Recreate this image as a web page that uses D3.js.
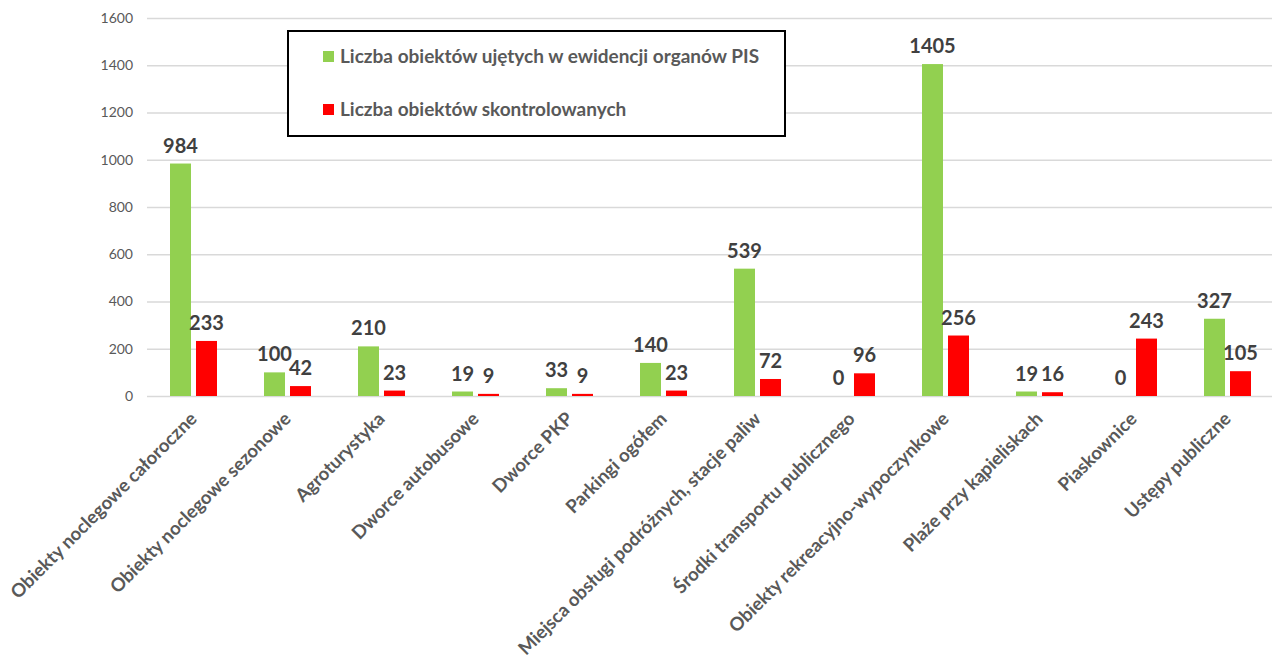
<!DOCTYPE html>
<html lang="pl">
<head>
    <meta charset="utf-8">
    <title>Obiekty PIS</title>
    <script src="https://d3js.org/d3.v7.min.js"></script>
    <style>
        body { margin: 0; background: #fff; }
        text { font-family: Lato, "Open Sans", sans-serif; }
    </style>
</head>
<body>
<svg width="1272" height="664"></svg>
<script>
    var categories = ["Obiekty noclegowe całoroczne", "Obiekty noclegowe sezonowe", "Agroturystyka",
        "Dworce autobusowe", "Dworce PKP", "Parkingi ogółem", "Miejsca obsługi podróżnych, stacje paliw",
        "Środki transportu publicznego", "Obiekty rekreacyjno-wypoczynkowe", "Plaże przy kąpieliskach",
        "Piaskownice", "Ustępy publiczne"];
    var ewidencja = [984, 100, 210, 19, 33, 140, 539, 0, 1405, 19, 0, 327];
    var skontrolowane = [233, 42, 23, 9, 9, 23, 72, 96, 256, 16, 243, 105];
    var seriesNames = ["Liczba obiektów ujętych w ewidencji organów PIS", "Liczba obiektów skontrolowanych"];
    var seriesColors = ["#92D050", "#FF0000"];
    var yTicks = [0, 200, 400, 600, 800, 1000, 1200, 1400, 1600];

    var svg = d3.select("svg");
    var plot = {left: 147, right: 1275, top: 18, bottom: 396};

    var x = d3.scaleBand()
        .domain(categories)
        .range([plot.left, plot.right]);
    var xSub = d3.scaleBand()
        .domain([0, 1])
        .range([-24, 23])
        .paddingInner(0.192);
    var y = d3.scaleLinear()
        .domain([0, 1600])
        .range([plot.bottom, plot.top]);

    // siatka + etykiety osi Y
    var yAxis = d3.axisLeft(y)
        .tickValues(yTicks)
        .tickFormat(d3.format("d"))
        .tickSize(-(1272 - plot.left));
    var gy = svg.append("g")
        .attr("transform", "translate(" + plot.left + ",0)")
        .call(yAxis);
    gy.select(".domain").remove();
    gy.selectAll(".tick line").attr("stroke", "#d9d9d9").attr("stroke-width", 1.3);
    gy.selectAll(".tick text")
        .attr("fill", "#595959")
        .style("font-size", "14px")
        .attr("x", -14);

    // etykiety osi X
    var xAxis = d3.axisBottom(x).tickSize(0).tickPadding(0);
    var gx = svg.append("g")
        .attr("transform", "translate(0," + plot.bottom + ")")
        .call(xAxis);
    gx.select(".domain").remove();
    gx.selectAll(".tick text")
        .attr("fill", "#595959")
        .style("font-size", "18.5px")
        .style("font-weight", "bold")
        .attr("text-anchor", "end")
        .attr("dy", 0)
        .attr("y", 0)
        .attr("transform", "translate(4,24) rotate(-45)");

    var series = [ewidencja, skontrolowane];
    series.forEach(function (vals, s) {
        var g = svg.append("g");
        g.selectAll("rect")
            .data(vals)
            .enter()
            .append("rect")
            .attr("x", function (d, i) { return x(categories[i]) + x.bandwidth() / 2 + xSub(s); })
            .attr("y", function (d) { return y(d); })
            .attr("width", xSub.bandwidth())
            .attr("height", function (d) { return plot.bottom - y(d); })
            .attr("fill", seriesColors[s]);
        g.selectAll("text")
            .data(vals)
            .enter()
            .append("text")
            .attr("x", function (d, i) { return x(categories[i]) + x.bandwidth() / 2 + xSub(s) + xSub.bandwidth() / 2; })
            .attr("y", function (d) { return y(d) - 11; })
            .attr("text-anchor", "middle")
            .attr("fill", "#404040")
            .style("font-size", "20px")
            .style("font-weight", "bold")
            .text(function (d) { return d; });
    });

    // legenda
    var legend = svg.append("g");
    legend.append("rect")
        .attr("x", 288).attr("y", 31)
        .attr("width", 497).attr("height", 105)
        .attr("fill", "#fff")
        .attr("stroke", "#000")
        .attr("stroke-width", 2);
    var items = legend.selectAll(".item")
        .data(seriesNames)
        .enter()
        .append("g")
        .attr("transform", function (d, i) { return "translate(323," + (51 + i * 53) + ")"; });
    items.append("rect")
        .attr("width", 11).attr("height", 11)
        .attr("fill", function (d, i) { return seriesColors[i]; });
    items.append("text")
        .attr("x", 17).attr("y", 5.5)
        .attr("dy", "0.35em")
        .attr("fill", "#595959")
        .style("font-size", "19px")
        .style("font-weight", "bold")
        .text(function (d) { return d; });
</script>
</body>
</html>
